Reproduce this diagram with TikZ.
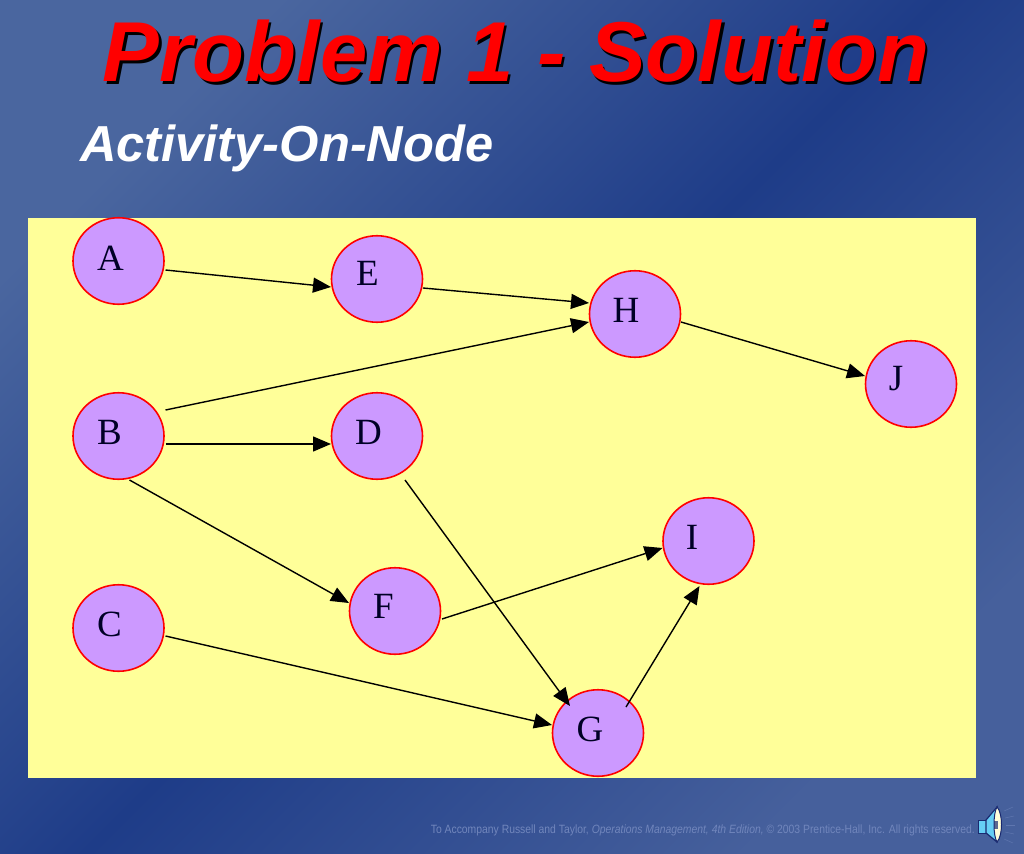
\documentclass[tikz,border=0pt]{standalone}
\usepackage{fontspec}
\setmainfont{Liberation Serif}
\newfontfamily\arial{Liberation Sans}
\usetikzlibrary{arrows.meta,shapes.geometric}
\definecolor{bgA}{HTML}{4A669F}
\definecolor{bgB}{HTML}{1E3C88}
\definecolor{bgC}{HTML}{46609C}
\definecolor{panel}{HTML}{FFFF99}
\definecolor{act}{HTML}{CC99FF}
\definecolor{foot}{HTML}{7186BC}
\definecolor{spk}{HTML}{1A2A70}
\tikzset{
  x=1pt,y=-1pt,
  actnode/.style={ellipse,draw=red,fill=act,line width=1.6pt,minimum width=91pt,minimum height=86.5pt,inner sep=0pt},
  lbl/.style={inner sep=0pt,font=\fontsize{37}{37}\selectfont,text=black!85!blue},
  arr/.style={draw=black,line width=1.4pt,-{Triangle[length=18pt,width=15pt]}},
  wave/.style={draw=foot,opacity=.6,line width=.5pt}
}
\begin{document}
\begin{tikzpicture}
\useasboundingbox (0,0) rectangle (1024,853);
\shade[top color=bgA,bottom color=bgC,middle color=bgB,shading angle=45] (0,0) rectangle (1024,853);
\fill[panel] (28,218) rectangle (976,778);
\node[actnode] (A) at (118.5,261) {};
\node[actnode] (E) at (377,279) {};
\node[actnode] (H) at (635,314) {};
\node[actnode] (J) at (911,384) {};
\node[actnode] (B) at (118.5,436) {};
\node[actnode] (D) at (377,436) {};
\node[actnode] (F) at (395,611) {};
\node[actnode] (I) at (708.5,541) {};
\node[actnode] (C) at (118.5,628) {};
\node[actnode] (G) at (598,733) {};
\node[lbl] (Al) at (110.5,258) {A};
\node[lbl] (El) at (367.5,273) {E};
\node[lbl] (Hl) at (626,310) {H};
\node[lbl] (Jl) at (896,379) {J};
\node[lbl] (Bl) at (109.5,432) {B};
\node[lbl] (Dl) at (368.5,432) {D};
\node[lbl] (Fl) at (383.5,606) {F};
\node[lbl] (Il) at (692,537) {I};
\node[lbl] (Cl) at (109.5,624) {C};
\node[lbl] (Gl) at (590,729) {G};
\draw[arr] ([shift={(47,9)}]A.center) -- ([shift={(-46,8)}]E.center);
\draw[arr] ([shift={(46,9)}]E.center) -- ([shift={(-46,-11)}]H.center);
\draw[arr] ([shift={(47,-26)}]B.center) -- ([shift={(-46,8)}]H.center);
\draw[arr] ([shift={(46,8)}]H.center) -- ([shift={(-46,-8)}]J.center);
\draw[arr] ([shift={(47,8)}]B.center) -- ([shift={(-46,8)}]D.center);
\draw[arr] ([shift={(11,44)}]B.center) -- ([shift={(-46,-8)}]F.center);
\draw[arr] ([shift={(28,44)}]D.center) -- ([shift={(-28,-27)}]G.center);
\draw[arr] ([shift={(47,8)}]F.center) -- ([shift={(-46,7)}]I.center);
\draw[arr] ([shift={(47,8)}]C.center) -- ([shift={(-46,-8)}]G.center);
\draw[arr] ([shift={(28,-26)}]G.center) -- ([shift={(-9,45)}]I.center);
\node[font=\arial\bfseries\itshape\fontsize{85}{85}\selectfont,text=black,inner sep=0pt,anchor=base] (ts) at (518.5,84.5) {Problem 1 - Solution};
\node[font=\arial\bfseries\itshape\fontsize{85}{85}\selectfont,text=red,inner sep=0pt,anchor=base] (t) at (516,82) {Problem 1 - Solution};
\node[font=\arial\bfseries\itshape\fontsize{50.6}{50.6}\selectfont,text=white,inner sep=0pt,anchor=base west] (s) at (80,162) {Activity-On-Node};
\node[font=\arial\fontsize{12}{12}\selectfont,text=foot,inner sep=0pt,anchor=base east,xscale=.865] (f) at (975,833) {To Accompany Russell and Taylor, {\itshape Operations Management, 4th Edition,} © 2003 Prentice-Hall, Inc. All rights reserved.};
% speaker
\filldraw[fill=cyan!60!white,draw=spk,line width=.6pt] (978,820) -- (986,820) -- (986,833) -- (978,833) -- cycle;
\filldraw[fill=cyan!60!white,draw=spk,line width=1.2pt] (986,820) -- (997,807) -- (997,842) -- (986,833) -- cycle;
\filldraw[fill=white!85!yellow,draw=spk,line width=1pt] (997,807) .. controls (1003,813) and (1003,836) .. (997,842) .. controls (993,836) and (993,813) .. (997,807) -- cycle;
\fill[spk,opacity=.7] (994,821) rectangle (998,829);
\draw[wave] (1004,811) -- (1013,807);
\draw[wave] (1005,818) -- (1014,816);
\draw[wave] (1006,825) -- (1015,825);
\draw[wave] (1005,832) -- (1014,834);
\draw[wave] (1004,839) -- (1013,843);
\end{tikzpicture}
\end{document}
